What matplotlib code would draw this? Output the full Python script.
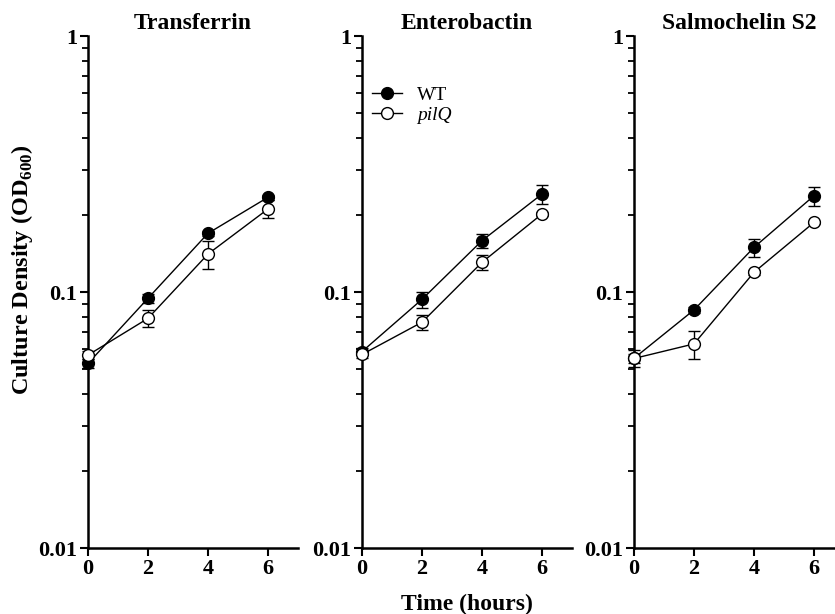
import matplotlib
matplotlib.use("Agg")
import matplotlib.pyplot as plt
from matplotlib.lines import Line2D
from matplotlib.ticker import LogLocator, FixedLocator, NullFormatter

plt.rcParams['font.family'] = ['Liberation Serif', 'DejaVu Serif']
plt.rcParams['mathtext.fontset'] = 'custom'
plt.rcParams['mathtext.rm'] = 'Liberation Serif:bold'
plt.rcParams['mathtext.bf'] = 'Liberation Serif:bold'

# time points (hours)
hours = [0, 2, 4, 6]
titles = ['Transferrin', 'Enterobactin', 'Salmochelin S2']

# culture density (OD600), mean and error per panel
wt_mean = [
    [0.0526, 0.0945, 0.1695, 0.2344],
    [0.0585, 0.0936, 0.1587, 0.2413],
    [0.0551, 0.0851, 0.1494, 0.2377],
]
wt_err = [
    [0.002, 0.004, 0.004, 0.005],
    [0.002, 0.0068, 0.0097, 0.020],
    [0.0041, 0.002, 0.012, 0.020],
]
pilq_mean = [
    [0.0567, 0.0789, 0.1407, 0.211],
    [0.0570, 0.0762, 0.1306, 0.2017],
    [0.0550, 0.0627, 0.1194, 0.187],
]
pilq_err = [
    [0.002, 0.006, 0.018, 0.017],
    [0.002, 0.0054, 0.0087, 0.004],
    [0.002, 0.0079, 0.003, 0.003],
]

fig = plt.figure(figsize=(8.35, 6.14), dpi=100)
W, H = 835, 614
lefts = [88, 362, 634]
ax_w, ax_top, ax_bot = 210, 36, 548

for i in range(3):
    ax = fig.add_axes([lefts[i] / W, 1 - ax_bot / H, ax_w / W, (ax_bot - ax_top) / H])
    ax.set_yscale('log')
    ax.set_ylim(0.01, 1)
    ax.set_xlim(0, 7)

    ax.errorbar(hours, wt_mean[i], yerr=wt_err[i], color='black', lw=1.0,
                marker='o', ms=8.5, mfc='black', mec='black', capsize=4,
                elinewidth=1.0, capthick=1.0, clip_on=False, zorder=3)
    ax.errorbar(hours, pilq_mean[i], yerr=pilq_err[i], color='black', lw=1.0,
                marker='o', ms=8.5, mfc='white', mec='black', mew=1.0, capsize=4,
                elinewidth=1.0, capthick=1.0, clip_on=False, zorder=3)

    for s in ['top', 'right']:
        ax.spines[s].set_visible(False)
    for s in ['left', 'bottom']:
        ax.spines[s].set_linewidth(1.8)

    ax.set_xticks([0, 2, 4, 6])
    ax.yaxis.set_major_locator(FixedLocator([0.01, 0.1, 1]))
    ax.set_yticklabels(['0.01', '0.1', '1'])
    ax.yaxis.set_minor_locator(LogLocator(base=10, subs=range(2, 10)))
    ax.yaxis.set_minor_formatter(NullFormatter())
    ax.tick_params(axis='both', which='major', direction='out', length=6, width=1.5,
                   labelsize=16, pad=2)
    ax.tick_params(axis='y', which='minor', direction='out', length=4.5, width=1.3)
    for lab in ax.get_xticklabels() + ax.get_yticklabels():
        lab.set_fontweight('bold')

    ax.set_title(titles[i], fontsize=17, fontweight='bold', pad=5)

    if i == 1:
        handles = [
            Line2D([], [], color='black', lw=1.0, marker='o', ms=8.5, mfc='black', mec='black'),
            Line2D([], [], color='black', lw=1.0, marker='o', ms=8.5, mfc='white', mec='black'),
        ]
        leg = ax.legend(handles, ['WT', 'pilQ'], loc='upper left',
                        bbox_to_anchor=(-0.015, 0.928), frameon=False,
                        fontsize=14, handlelength=1.5, handletextpad=0.8,
                        labelspacing=0.1, borderaxespad=0.3)
        leg.get_texts()[1].set_style('italic')

fig.text(22 / W, 1 - 270 / H, 'Culture Density (OD$_{600}$)', rotation=90,
         ha='center', va='center', fontsize=17.5, fontweight='bold')
fig.text(467 / W, 1 - 604 / H, 'Time (hours)', ha='center', va='center',
         fontsize=17, fontweight='bold')

fig.savefig('out.png', dpi=100)
